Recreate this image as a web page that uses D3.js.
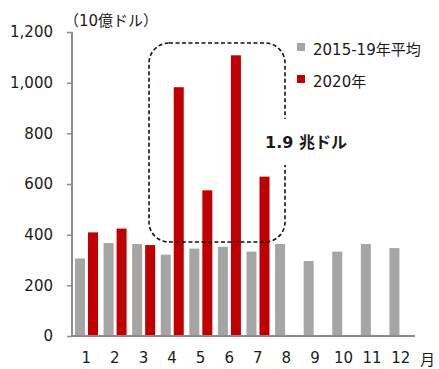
<!DOCTYPE html>
<html>
<head>
<meta charset="utf-8">
<script src="https://d3js.org/d3.v7.min.js"></script>
<style>
  body { margin: 0; background: #fff; }
  text { font-family: "DejaVu Sans", "Noto Sans CJK JP", sans-serif; fill: #1a1a1a; }
</style>
</head>
<body>
<svg id="chart" width="439" height="369"></svg>
<script>
// data
const months = ['1', '2', '3', '4', '5', '6', '7', '8', '9', '10', '11', '12'];
const avg1519 = [306, 367, 363, 321, 345, 352, 333, 363, 296, 333, 363, 347];
const y2020 = [409, 424, 359, 982, 575, 1108, 629];
const yTicks = [0, 200, 400, 600, 800, 1000, 1200];
const seriesNames = ['2015-19年平均', '2020年'];
const colors = ['#a5a5a5', '#c00000'];

const svg = d3.select('#chart');
const plotL = 72, plotR = 415, plotT = 32, plotB = 336;

const x = d3.scaleBand().domain(months).range([plotL, plotR]);
const y = d3.scaleLinear().domain([0, 1200]).range([plotB, plotT]);
const barW = 10;

// gray bars
svg.selectAll('.avg').data(avg1519).enter().append('rect')
  .attr('x', (d, i) => x(months[i]) + 3)
  .attr('width', barW)
  .attr('y', d => y(d))
  .attr('height', d => y(0) - y(d))
  .attr('fill', colors[0]);

// red bars
svg.selectAll('.cur').data(y2020).enter().append('rect')
  .attr('x', (d, i) => x(months[i]) + 16)
  .attr('width', barW)
  .attr('y', d => y(d))
  .attr('height', d => y(0) - y(d))
  .attr('fill', colors[1]);

// dashed box around Apr-Jul
const defs = svg.append('defs');
defs.append('filter').attr('id', 'blur')
  .attr('x', '-20%').attr('y', '-200%').attr('width', '140%').attr('height', '500%')
  .append('feGaussianBlur').attr('stdDeviation', 1.5);

const bx0 = 149, bx1 = 285, by0 = 43, by1 = 242, r = 20;
svg.append('line')
  .attr('x1', bx0 + 20).attr('x2', bx1 - 10)
  .attr('y1', by1).attr('y2', by1)
  .attr('stroke', '#fff').attr('stroke-width', 8)
  .attr('filter', 'url(#blur)');

svg.append('rect')
  .attr('x', bx0).attr('y', by0)
  .attr('width', bx1 - bx0).attr('height', by1 - by0)
  .attr('rx', r).attr('ry', r)
  .attr('fill', 'none')
  .attr('stroke', '#111').attr('stroke-width', 1.6)
  .attr('stroke-dasharray', '4,2.5');

// label over the right edge
svg.append('rect').attr('x', bx1 - 6).attr('y', 119).attr('width', 12).attr('height', 46).attr('fill', '#fff');
svg.append('text')
  .attr('x', 265).attr('y', 148)
  .attr('font-size', 16).attr('font-weight', 'bold')
  .text('1.9 兆ドル');

// y axis
const yAxis = svg.append('g')
  .attr('transform', 'translate(' + plotL + ',0)')
  .call(d3.axisLeft(y).tickValues(yTicks).tickSize(5).tickPadding(14)
    .tickFormat(d3.format(',')));
yAxis.select('.domain').attr('stroke', '#8c8c8c').attr('stroke-width', 2)
  .attr('d', 'M0,' + plotT + 'V' + plotB);
yAxis.selectAll('.tick line').attr('stroke', '#8c8c8c').attr('stroke-width', 1.5);
yAxis.selectAll('.tick text').attr('font-size', 15)
  .style('font-family', '"DejaVu Sans", sans-serif').attr('fill', '#1a1a1a');

// x axis
const xAxis = svg.append('g')
  .attr('transform', 'translate(0,' + plotB + ')')
  .call(d3.axisBottom(x).tickSize(0).tickPadding(16));
xAxis.select('.domain').attr('stroke', '#8c8c8c').attr('stroke-width', 2)
  .attr('d', 'M' + plotL + ',0H' + plotR);
xAxis.selectAll('.tick text').attr('font-size', 15)
  .style('font-family', '"DejaVu Sans", sans-serif').attr('fill', '#1a1a1a');

svg.append('text').attr('x', 420).attr('y', 365).attr('font-size', 15).text('月');

// unit
svg.append('text').attr('x', 64).attr('y', 26).attr('font-size', 15).text('（10億ドル）');

// legend
seriesNames.forEach((name, i) => {
  const ly = 43 + i * 32;
  svg.append('rect').attr('x', 297).attr('y', ly).attr('width', 8).attr('height', 8).attr('fill', colors[i]);
  svg.append('text').attr('x', 313).attr('y', ly + 12).attr('font-size', 15).text(name);
});
</script>
</body>
</html>
